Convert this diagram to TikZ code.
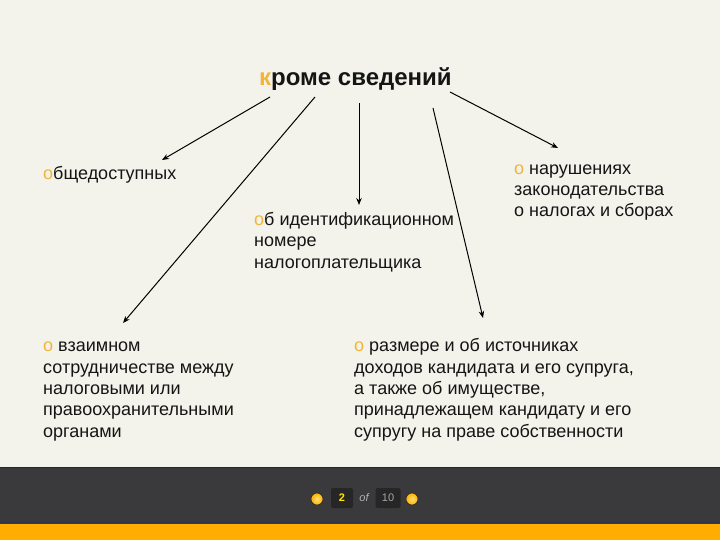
\documentclass[tikz,border=0pt]{standalone}
\usepackage{fontspec}
\setmainfont{Liberation Sans}
\usetikzlibrary{arrows.meta}
\definecolor{bgc}{HTML}{F3F3EC}
\definecolor{barc}{HTML}{3A3A3C}
\definecolor{barline}{HTML}{26262A}
\definecolor{bluel}{HTML}{2E3550}
\definecolor{orng}{HTML}{FFAD00}
\definecolor{accent}{HTML}{F2B53A}
\definecolor{textc}{HTML}{151515}
\definecolor{boxc}{HTML}{262626}
\definecolor{ballyel}{HTML}{FFD21A}
\begin{document}
\begin{tikzpicture}[x=1pt,y=-1pt,
  txt/.style={font=\fontsize{18}{21.3}\selectfont, inner sep=0pt, align=left, anchor=base west, text=textc},
  arr/.style={-{Stealth[length=7pt,width=5.5pt]}, line width=1pt, black},
  pagebox/.style={fill=boxc, rounded corners=2pt, minimum width=22pt, minimum height=20pt, inner sep=0pt, font=\fontsize{11}{11}\selectfont},
  ballc/.style={circle, minimum size=12pt, inner sep=0pt, inner color=ballyel!60!white, outer color=orng, draw=barline, line width=0.6pt}]
\useasboundingbox (0,0) rectangle (720,540);
\fill[bgc] (0,0) rectangle (720,540);
\fill[barc] (0,467) rectangle (720,524);
\draw[barline, line width=1.2pt] (0,467.6)--(720,467.6);
\draw[bluel, line width=1.5pt] (0,522.5)--(720,522.5);
\fill[orng] (0,524) rectangle (720,540);

\node[font=\bfseries\fontsize{24}{28}\selectfont, inner sep=0pt, anchor=base west, text=textc] (title) at (259,86) {\textcolor{accent}{к}роме сведений};

\node[txt] (pub) at (43,180) {\textcolor{accent}{о}бщедоступных};
\node[txt] (inn) at (254,268) {\textcolor{accent}{о}б идентификационном\\номере\\налогоплательщика};
\node[txt] (viol) at (514,217) {\textcolor{accent}{о} нарушениях\\законодательства\\о налогах и сборах};
\node[txt] (coop) at (43,437) {\textcolor{accent}{о} взаимном\\сотрудничестве между\\налоговыми или\\правоохранительными\\органами};
\node[txt] (inc) at (354,437) {\textcolor{accent}{о} размере и об источниках\\доходов кандидата и его супруга,\\а также об имуществе,\\принадлежащем кандидату и его\\супругу на праве собственности};

\coordinate (s1) at (270,97);  \coordinate (e1) at (162,160);
\coordinate (s2) at (315,97);  \coordinate (e2) at (123,323);
\coordinate (s3) at (359,103); \coordinate (e3) at (359,205);
\coordinate (s4) at (433,108); \coordinate (e4) at (483,318);
\coordinate (s5) at (450,92);  \coordinate (e5) at (558,148);
\draw[arr] (s1) -- (e1);
\draw[arr] (s2) -- (e2);
\draw[arr] (s3) -- (e3);
\draw[arr] (s4) -- (e4);
\draw[arr] (s5) -- (e5);

\node[ballc] (prev) at (317,499) {};
\node[pagebox, text=yellow!90!orange] (cur) at (342,498) {\textbf{2}};
\node[font=\itshape\fontsize{11}{11}\selectfont, text=gray!60] (of) at (364,498) {of};
\node[pagebox, minimum width=25pt, text=gray!70] (tot) at (388,498) {10};
\node[ballc] (next) at (412,499) {};
\end{tikzpicture}
\end{document}
